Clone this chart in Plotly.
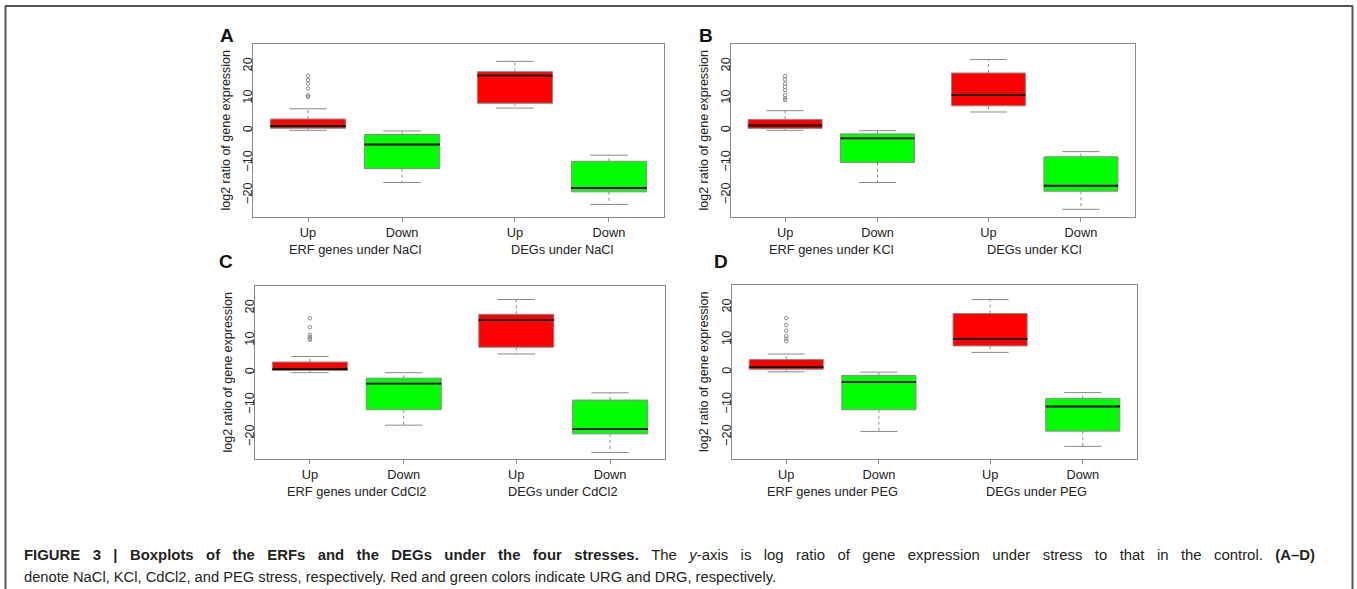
import plotly.graph_objects as go

W, H = 1357, 589

# ---------------- data ----------------
positions = [1, 2, 3.2, 4.2]
tick_labels = ["Up", "Down", "Up", "Down"]
box_colors = ["#FF0000", "#00FF00", "#FF0000", "#00FF00"]
panel_letters = ["A", "B", "C", "D"]

groups_A = ["ERF genes under NaCl", "DEGs under NaCl"]
groups_B = ["ERF genes under KCl", "DEGs under KCl"]
groups_C = ["ERF genes under CdCl2", "DEGs under CdCl2"]
groups_D = ["ERF genes under PEG", "DEGs under PEG"]

# order of boxes: ERF Up, ERF Down, DEG Up, DEG Down
lower_A = [0.1, -16.1, 7.0, -22.9]
q1_A = [0.75, -11.8, 8.5, -19.0]
med_A = [1.45, -4.3, 17.1, -17.8]
q3_A = [3.6, -1.2, 18.3, -9.5]
upper_A = [6.8, -0.1, 21.5, -7.6]
out_A = [17.0, 15.7, 14.6, 13.1, 11.0, 10.5]

lower_B = [0.1, -16.1, 5.8, -24.4]
q1_B = [0.7, -9.9, 7.7, -18.8]
med_B = [1.6, -2.4, 11.1, -17.1]
q3_B = [3.5, -1.0, 17.9, -8.1]
upper_B = [6.2, 0.0, 22.1, -6.5]
out_B = [16.9, 15.9, 14.6, 13.6, 12.6, 11.0, 10.0, 9.5]

lower_C = [0.0, -16.3, 5.8, -24.8]
q1_C = [0.7, -11.5, 7.9, -19.0]
med_C = [1.1, -3.4, 16.3, -17.5]
q3_C = [3.3, -1.7, 18.1, -8.5]
upper_C = [5.0, 0.0, 22.7, -6.25]
out_C = [16.9, 14.1, 11.8, 11.1, 10.6, 10.2]

lower_D = [0.1, -18.3, 6.1, -22.9]
q1_D = [0.9, -11.6, 8.1, -18.2]
med_D = [1.55, -3.1, 10.3, -10.6]
q3_D = [3.9, -1.0, 18.1, -8.1]
upper_D = [5.6, 0.0, 22.4, -6.3]
out_D = [16.7, 14.5, 12.8, 11.1, 10.3, 9.5]

y_ticks = [-20, -10, 0, 10, 20]

panels = [
    dict(lower=lower_A, q1=q1_A, med=med_A, q3=q3_A, upper=upper_A, out=out_A, groups=groups_A),
    dict(lower=lower_B, q1=q1_B, med=med_B, q3=q3_B, upper=upper_B, out=out_B, groups=groups_B),
    dict(lower=lower_C, q1=q1_C, med=med_C, q3=q3_C, upper=upper_C, out=out_C, groups=groups_C),
    dict(lower=lower_D, q1=q1_D, med=med_D, q3=q3_D, upper=upper_D, out=out_D, groups=groups_D),
]

# ---------------- layout geometry (pixels) ----------------
# plot area boxes: (left, right, top, bottom)
areas = [(253, 664, 44, 217), (731, 1135, 44, 217), (255, 665, 286, 459), (732, 1137, 285, 459)]
letter_pos = [(227, 35), (706, 35), (226, 261), (721, 261)]

def fx(x):
    return x / W

def fy(y):
    return 1 - y / H

FONT = "Liberation Sans, Arial, sans-serif"
GRAY = "#8a8a8a"
TXT = "#222222"
FS = 12.8
BOXW = 0.8
CAPW = 0.2

fig = go.Figure()
annotations = []

for i, p in enumerate(panels):
    suf = "" if i == 0 else str(i + 1)
    xa, ya = "x" + suf, "y" + suf

    # whiskers (dotted) and caps (solid)
    wx, wy, cx, cy = [], [], [], []
    for j, pos in enumerate(positions):
        wx += [pos, pos, None, pos, pos, None]
        wy += [p["q3"][j], p["upper"][j], None, p["q1"][j], p["lower"][j], None]
        cx += [pos - CAPW, pos + CAPW, None, pos - CAPW, pos + CAPW, None]
        cy += [p["upper"][j], p["upper"][j], None, p["lower"][j], p["lower"][j], None]
    fig.add_trace(go.Scatter(x=wx, y=wy, mode="lines", line=dict(color=GRAY, width=1, dash="dot"),
                             xaxis=xa, yaxis=ya, showlegend=False, hoverinfo="skip"))
    fig.add_trace(go.Scatter(x=cx, y=cy, mode="lines", line=dict(color=GRAY, width=1),
                             xaxis=xa, yaxis=ya, showlegend=False, hoverinfo="skip"))

    # boxes
    for j, pos in enumerate(positions):
        fig.add_trace(go.Box(x=[pos], q1=[p["q1"][j]], median=[p["med"][j]], q3=[p["q3"][j]],
                             lowerfence=[p["q1"][j]], upperfence=[p["q3"][j]],
                             width=BOXW, whiskerwidth=0, fillcolor=box_colors[j],
                             line=dict(color=GRAY, width=1), boxpoints=False,
                             xaxis=xa, yaxis=ya, showlegend=False))

    # medians
    mx, my = [], []
    for j, pos in enumerate(positions):
        mx += [pos - BOXW / 2, pos + BOXW / 2, None]
        my += [p["med"][j], p["med"][j], None]
    fig.add_trace(go.Scatter(x=mx, y=my, mode="lines", line=dict(color="black", width=1.8),
                             xaxis=xa, yaxis=ya, showlegend=False, hoverinfo="skip"))

    # outliers
    fig.add_trace(go.Scatter(x=[positions[0]] * len(p["out"]), y=p["out"], mode="markers",
                             marker=dict(symbol="circle-open", size=3.5, color=GRAY, line=dict(width=1)),
                             xaxis=xa, yaxis=ya, showlegend=False, hoverinfo="skip"))

    l, r, t, b = areas[i]
    axis_common = dict(showline=True, mirror=True, linecolor=GRAY, linewidth=1,
                       ticks="outside", tickcolor=GRAY, ticklen=4, showgrid=False,
                       zeroline=False, tickfont=dict(family=FONT, size=FS, color=TXT))
    fig.update_layout(**{
        "xaxis" + suf: dict(domain=[fx(l), fx(r)], range=[0.415, 4.785], anchor=ya,
                            tickmode="array", tickvals=positions, ticktext=tick_labels, **axis_common),
        "yaxis" + suf: dict(domain=[fy(b), fy(t)], range=[-26.8, 26.9], anchor=xa,
                            tickmode="array", tickvals=y_ticks, tickangle=-90,
                            ticklabelstandoff=-9, **axis_common),
    })

    # group labels under the axis
    annotations.append(dict(x=(positions[0] + positions[1]) / 2, xref=xa, y=fy(b + 32), yref="paper",
                            text=p["groups"][0], showarrow=False, xanchor="center", yanchor="middle",
                            font=dict(family=FONT, size=FS, color=TXT)))
    annotations.append(dict(x=(positions[2] + positions[3]) / 2, xref=xa, y=fy(b + 32), yref="paper",
                            text=p["groups"][1], showarrow=False, xanchor="center", yanchor="middle",
                            font=dict(family=FONT, size=FS, color=TXT)))
    # y title
    annotations.append(dict(x=fx(l - 28), y=fy((t + b) / 2), xref="paper", yref="paper",
                            text="log2 ratio of gene expression", textangle=-90, showarrow=False,
                            xanchor="center", yanchor="middle", font=dict(family=FONT, size=12.5, color=TXT)))
    # panel letter
    lx, ly = letter_pos[i]
    annotations.append(dict(x=fx(lx), y=fy(ly), xref="paper", yref="paper",
                            text="<b>" + panel_letters[i] + "</b>", showarrow=False,
                            xanchor="center", yanchor="middle", font=dict(family=FONT, size=19, color="#111")))

# caption (first line is justified in the reference: widen its word gaps)
caption1_bold = "FIGURE 3 | Boxplots of the ERFs and the DEGs under the four stresses."
caption1_rest = "The <i>y</i>-axis is log ratio of gene expression under stress to that in the control."
caption1_end = "(A–D)"
caption2 = ("denote NaCl, KCl, CdCl2, and PEG stress, respectively. "
            "Red and green colors indicate URG and DRG, respectively.")
GAP = " \u00a0\u00a0"
caption1 = ("<b>" + caption1_bold.replace(" ", GAP) + "</b>" + GAP +
            caption1_rest.replace(" ", GAP) + GAP + "<b>" + caption1_end + "</b>")
annotations.append(dict(x=fx(22), y=fy(555), xref="paper", yref="paper", text=caption1, showarrow=False,
                        xanchor="left", yanchor="middle", font=dict(family=FONT, size=14.9, color="#231f20")))
annotations.append(dict(x=fx(22), y=fy(577), xref="paper", yref="paper", text=caption2, showarrow=False,
                        xanchor="left", yanchor="middle", font=dict(family=FONT, size=14.7, color="#231f20")))

# outer figure frame (open at the bottom)
frame = dict(color="#555555", width=2)
shapes = [
    dict(type="line", xref="paper", yref="paper", layer="above",
         x0=fx(5.5), x1=fx(5.5), y0=0, y1=fy(6), line=frame),
    dict(type="line", xref="paper", yref="paper", layer="above",
         x0=fx(5), x1=fx(1353), y0=fy(6), y1=fy(6), line=frame),
    dict(type="line", xref="paper", yref="paper", layer="above",
         x0=fx(1352.5), x1=fx(1352.5), y0=0, y1=fy(6), line=frame),
]

fig.update_layout(width=W, height=H, margin=dict(l=0, r=0, t=0, b=0),
                  paper_bgcolor="white", plot_bgcolor="white",
                  annotations=annotations, shapes=shapes, boxmode="overlay",
                  font=dict(family=FONT))

fig.write_html("out.html", config={"displayModeBar": False},
               post_script="document.body.style.margin='0';document.body.style.overflow='hidden';")
